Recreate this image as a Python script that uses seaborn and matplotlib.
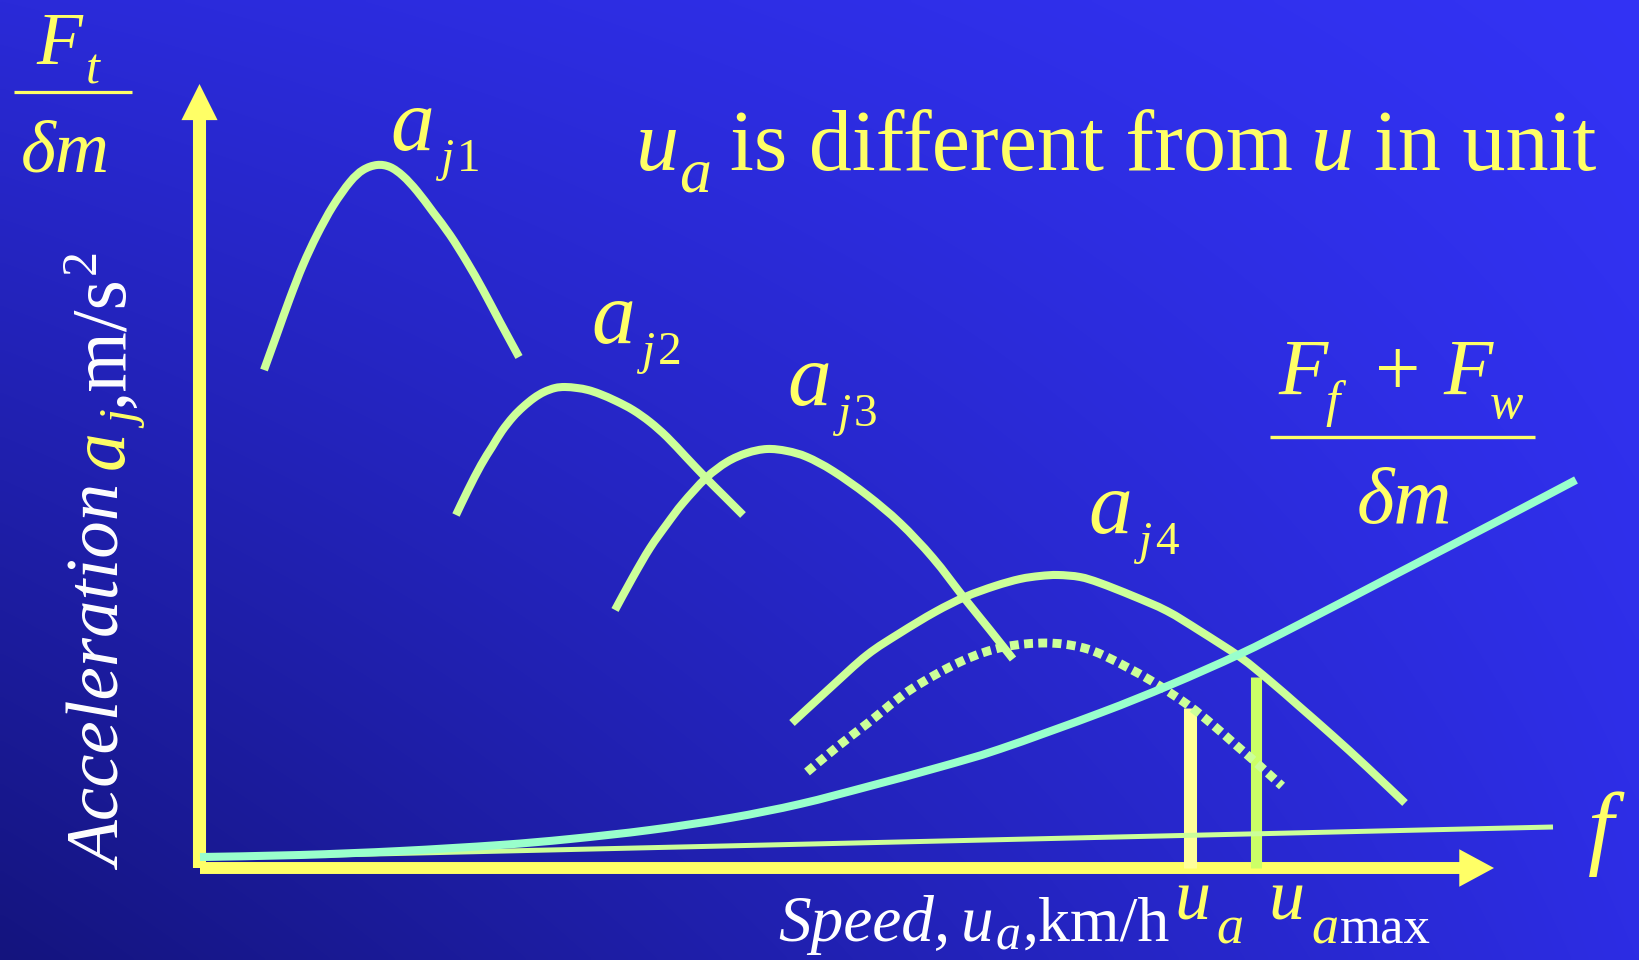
import numpy as np
import matplotlib
matplotlib.use("Agg")
import matplotlib.pyplot as plt
import seaborn as sns
from matplotlib.font_manager import FontProperties
from matplotlib.lines import Line2D
from matplotlib.path import Path
from matplotlib.patches import PathPatch

# ---- data (speed in km/h, acceleration in m/s^2) ----
aj1_speed = [6.4, 7.7, 9.0, 10.3, 11.7, 13.3, 15.0, 16.3, 17.7, 19.0, 20.3, 21.7, 23.3, 25.0, 26.7, 28.3, 30.0, 31.9]
aj1_acc = [4.98, 5.34, 5.70, 6.03, 6.33, 6.62, 6.86, 6.98, 7.03, 7.01, 6.92, 6.77, 6.56, 6.33, 6.06, 5.78, 5.46, 5.11]

aj2_speed = [25.6, 26.8, 28.1, 29.2, 30.2, 31.3, 32.3, 33.4, 34.4, 35.5, 36.5, 37.7, 38.8, 40.0, 41.6, 43.3, 45.0, 46.7, 48.6, 50.6, 52.4, 54.3]
aj2_acc = [3.53, 3.78, 4.03, 4.21, 4.37, 4.51, 4.61, 4.70, 4.76, 4.80, 4.81, 4.80, 4.78, 4.74, 4.67, 4.58, 4.46, 4.31, 4.11, 3.90, 3.72, 3.53]

aj3_speed = [41.5, 43.3, 45.0, 46.7, 48.3, 50.6, 52.7, 54.7, 56.7, 58.7, 60.7, 63.3, 66.7, 70.0, 73.3, 76.5, 79.0, 81.3]
aj3_acc = [2.58, 2.91, 3.20, 3.44, 3.65, 3.90, 4.06, 4.15, 4.19, 4.17, 4.11, 3.97, 3.73, 3.45, 3.10, 2.69, 2.38, 2.09]

aj4_speed = [59.2, 63.0, 66.7, 70.0, 73.5, 76.5, 79.5, 82.0, 84.0, 85.8, 88.0, 90.0, 93.3, 96.7, 100.0, 104.0, 107.0, 110.0, 113.3, 116.7, 120.5]
aj4_acc = [1.45, 1.80, 2.13, 2.35, 2.56, 2.71, 2.82, 2.89, 2.92, 2.93, 2.91, 2.85, 2.72, 2.57, 2.37, 2.11, 1.87, 1.61, 1.32, 1.01, 0.65]

# acceleration available at part throttle (dotted)
part_speed = [60.7, 63.7, 66.8, 71.0, 76.2, 80.4, 84.6, 88.0, 90.7, 95.0, 98.8, 101.3, 103.7, 106.0, 108.2]
part_acc = [0.96, 1.21, 1.45, 1.78, 2.07, 2.21, 2.25, 2.21, 2.11, 1.88, 1.63, 1.43, 1.22, 1.02, 0.82]

# (Ff + Fw) / (delta m)
resist_speed = [0, 10, 20, 30, 37, 45, 53, 60, 67, 74, 80, 90, 97, 104, 110, 120, 130, 137.6]
resist_acc = [0.11, 0.13, 0.17, 0.23, 0.29, 0.38, 0.50, 0.64, 0.82, 1.01, 1.19, 1.55, 1.83, 2.14, 2.44, 2.96, 3.48, 3.88]

# rolling resistance line f
f_speed = [0, 135.3]
f_acc = [0.10, 0.41]

ua_speed, ua_top = 99.0, 1.60
uamax_speed, uamax_top = 105.6, 1.91

x_axis_end = 129.4
y_axis_end = 7.84

# ---- styling ----
W, H = 1640, 960
YEL = "#ffff66"
WHITE = "#ffffff"
CURVE = "#ccff99"
CYAN = "#99ffcc"
SERIF_DIR = "/usr/share/fonts/truetype/liberation/"
SERIF_FILES = {"normal": SERIF_DIR + "LiberationSerif-Regular.ttf",
               "italic": SERIF_DIR + "LiberationSerif-Italic.ttf"}


def fprops(style, size):
    try:
        fp = FontProperties(fname=SERIF_FILES[style], size=size)
        fp.get_name()
        return fp
    except Exception:
        return FontProperties(family=["Liberation Serif", "DejaVu Serif"], style=style, size=size)


fig = plt.figure(figsize=(W / 100, H / 100), dpi=100)

# background gradient
bg = fig.add_axes([0, 0, 1, 1])
corners = {
    "tl": np.array([42, 42, 216]), "tr": np.array([51, 51, 245]),
    "bl": np.array([20, 20, 126]), "br": np.array([45, 45, 228]),
}
u = np.linspace(0, 1, 256)[None, :, None]
v = np.linspace(0, 1, 256)[:, None, None]
grad = ((1 - v) * ((1 - u) * corners["tl"] + u * corners["tr"])
        + v * ((1 - u) * corners["bl"] + u * corners["br"])) / 255.0
bg.imshow(grad, extent=[0, 1, 0, 1], aspect="auto", origin="upper", interpolation="bilinear")
bg.set_axis_off()

ax = fig.add_axes([0, 0, 1, 1])
ax.patch.set_alpha(0)
ax.set_xlim(-20, 144)
ax.set_ylim(-0.92, 8.68)
ax.set_axis_off()

# axes arrows
ax.annotate("", xy=(-0.05, y_axis_end), xytext=(-0.05, 0), annotation_clip=False,
            arrowprops=dict(arrowstyle="simple,head_length=26,head_width=26,tail_width=9.4",
                            mutation_scale=1, color=YEL, lw=0, shrinkA=0, shrinkB=0), zorder=2)
ax.annotate("", xy=(x_axis_end, 0), xytext=(0, 0), annotation_clip=False,
            arrowprops=dict(arrowstyle="simple,head_length=25,head_width=27,tail_width=8.6",
                            mutation_scale=1, color=YEL, lw=0, shrinkA=0, shrinkB=0), zorder=2)

# speed markers and the rolling-resistance line
common = dict(ax=ax, sort=False, estimator=None, legend=False)
sns.lineplot(x=[ua_speed, ua_speed], y=[0, ua_top], color="#ffff99", linewidth=9.4,
             solid_capstyle="butt", zorder=3, **common)
sns.lineplot(x=[uamax_speed, uamax_speed], y=[0, uamax_top], color="#ccff66", linewidth=8.0,
             solid_capstyle="butt", zorder=3, **common)
sns.lineplot(x=f_speed, y=f_acc, color=CURVE, linewidth=3.6, solid_capstyle="butt", zorder=4, **common)


def smooth_curve(xs, ys, **kw):
    """Draw a smooth cubic curve passing through every (x, y) point."""
    pts = np.column_stack([xs, ys]).astype(float)
    n = len(pts)
    verts, codes = [pts[0]], [Path.MOVETO]
    for i in range(n - 1):
        p0 = pts[i - 1] if i > 0 else pts[i]
        p1, p2 = pts[i], pts[i + 1]
        p3 = pts[i + 2] if i + 2 < n else pts[i + 1]
        verts += [p1 + (p2 - p0) / 6.0, p2 - (p3 - p1) / 6.0, p2]
        codes += [Path.CURVE4] * 3
    ax.add_patch(PathPatch(Path(verts, codes), fill=False, capstyle="butt", joinstyle="round", **kw))


smooth_curve(part_speed, part_acc, edgecolor=CURVE, lw=6.4, linestyle=(0, (1, 0.6)), zorder=4)
for xs, ys in [(aj1_speed, aj1_acc), (aj2_speed, aj2_acc), (aj3_speed, aj3_acc), (aj4_speed, aj4_acc)]:
    smooth_curve(xs, ys, edgecolor=CURVE, lw=5.8, zorder=5)
smooth_curve(resist_speed, resist_acc, edgecolor=CYAN, lw=5.8, zorder=6)

# ---- text ----
renderer = fig.canvas.get_renderer()


def chain(x, y, pieces, rot=0):
    """Place text runs one after another; x, y are pixels from the top-left."""
    pos = 0.0
    for s, size, color, style, drop, gap in pieces:
        pos += gap
        if rot == 0:
            px, py = x + pos, y + drop
        else:
            px, py = x + drop, y - pos
        t = fig.text(px / W, 1 - py / H, s, fontproperties=fprops(style, size), color=color,
                     ha="left", va="baseline", rotation=rot, rotation_mode="anchor")
        bb = t.get_window_extent(renderer)
        pos += bb.width if rot == 0 else bb.height


def bar(x0, x1, y, lw=2.3):
    fig.add_artist(Line2D([x0 / W, x1 / W], [1 - y / H, 1 - y / H], lw=lw, color=YEL,
                          solid_capstyle="butt"))


# headline
chain(636, 170, [("u", 62, YEL, "italic", 0, 0), ("a", 46, YEL, "italic", 22, 0),
                 ("is different from", 62, YEL, "normal", 0, 19), ("u", 62, YEL, "italic", 0, 18),
                 ("in unit", 62, YEL, "normal", 0, 20)])

# curve labels
for (lx, ly), num in [((390, 150), "1"), ((591, 343), "2"), ((787, 405), "3"), ((1088, 533), "4")]:
    chain(lx, ly, [("a", 63, YEL, "italic", 0, 0)])
    chain(lx + 50, ly + 21, [("j", 34, YEL, "italic", 0, 0), (num, 34, YEL, "normal", 0, 4)])

# Ft / (delta m)
chain(36, 64, [("F", 54, YEL, "italic", 0, 0)])
chain(86, 83, [("t", 36, YEL, "italic", 0, 0)])
bar(14, 132, 92)
chain(21, 171, [("δm", 54, YEL, "italic", 0, 0)])

# (Ff + Fw) / (delta m)
chain(1278, 395, [("F", 58, YEL, "italic", 0, 0)])
chain(1325, 416, [("f", 37, YEL, "italic", 0, 0)])
chain(1375, 395, [("+", 58, YEL, "normal", 0, 0)])
chain(1443, 395, [("F", 58, YEL, "italic", 0, 0)])
chain(1490, 418, [("w", 36, YEL, "italic", 0, 0)])
bar(1270, 1535, 437, lw=2.4)
chain(1357, 523, [("δm", 58, YEL, "italic", 0, 0)])

# f label
chain(1588, 857, [("f", 67, YEL, "italic", 0, 0)])

# y label (rotated)
chain(123, 870, [("Acceleration", 54, WHITE, "italic", 0, 0), ("a", 56, YEL, "italic", 0, 18),
                 ("j", 36, YEL, "italic", 16, 2), (",m/s", 56, WHITE, "normal", 0, 6),
                 ("2", 36, WHITE, "normal", -28, 2)], rot=90)

# x label
chain(778, 941, [("Speed,", 47, WHITE, "italic", 0, 0), ("u", 47, WHITE, "italic", 0, 10),
                 ("a", 36, WHITE, "italic", 8, 3), (",km/h", 46, WHITE, "normal", 0, 2)])
chain(1174, 920, [("u", 52, YEL, "italic", 0, 0)])
chain(1216, 943, [("a", 39, YEL, "italic", 0, 0)])
chain(1268, 920, [("u", 52, YEL, "italic", 0, 0)])
chain(1311, 943, [("a", 39, YEL, "italic", 0, 0), ("max", 38, WHITE, "normal", 0, 2)])

fig.savefig("out.png", dpi=100)
